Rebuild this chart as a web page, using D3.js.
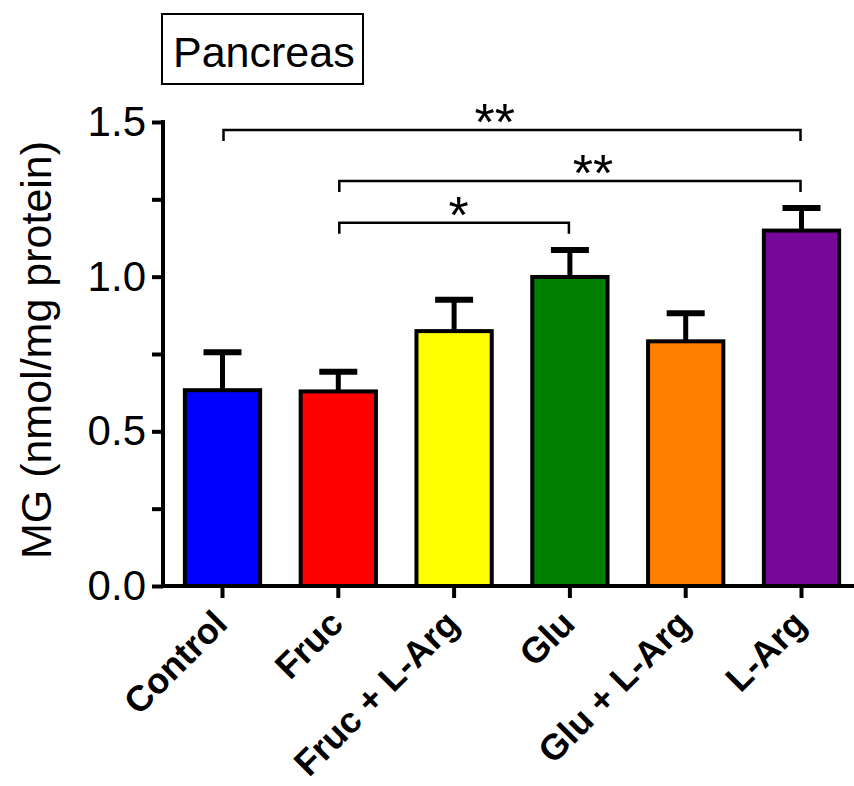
<!DOCTYPE html>
<html>
<head>
<meta charset="utf-8">
<script src="https://cdn.jsdelivr.net/npm/d3@7"></script>
<style>
  html, body { margin: 0; padding: 0; background: #fff; }
  svg { display: block; font-family: "Liberation Sans", Arial, sans-serif; }
</style>
</head>
<body>
<div id="chart"></div>
<script>
// group names, means and SEM
const groups = ['Control', 'Fruc', 'Fruc + L-Arg', 'Glu', 'Glu + L-Arg', 'L-Arg'];
const means  = [0.633, 0.629, 0.824, 0.999, 0.791, 1.149];
const sems   = [0.123, 0.064, 0.101, 0.087, 0.091, 0.073];
const colors = ['#0000ff', '#ff0000', '#ffff00', '#008000', '#ff8000', '#77079a'];
const yTicks = [0, 0.5, 1.0, 1.5];
const yMinorTicks = [0.25, 0.75, 1.25];
// significance brackets: from group, to group, level (y units), label
const brackets = [
  {from: 'Control', to: 'L-Arg', level: 1.474, label: '**'},
  {from: 'Fruc', to: 'L-Arg', level: 1.309, label: '**'},
  {from: 'Fruc', to: 'Glu', level: 1.174, label: '*'}
];
const starPos = [0.47, 0.55, 0.52]; // where the stars sit along each bracket

(function(){
  const width = 854, height = 786;
  const svg = d3.select('#chart').append('svg')
    .attr('width', width)
    .attr('height', height);

  const x = d3.scaleBand()
    .domain(groups)
    .range([164.6, 859.4])
    .paddingInner(0.35)
    .paddingOuter(0.175);
  const y = d3.scaleLinear().domain([0, 1.5]).range([586, 122]);

  // bars
  const bars = svg.append('g').attr('class', 'bars');
  const data = groups.map((g, i) => ({g, m: means[i], s: sems[i], c: colors[i]}));

  // error bars (upper only)
  bars.selectAll('line.stem')
    .data(data)
    .join('line')
    .attr('class', 'stem')
    .attr('x1', d => x(d.g) + x.bandwidth() / 2)
    .attr('x2', d => x(d.g) + x.bandwidth() / 2)
    .attr('y1', d => y(d.m))
    .attr('y2', d => y(d.m + d.s))
    .attr('stroke', '#000')
    .attr('stroke-width', 5);
  bars.selectAll('line.cap')
    .data(data)
    .join('line')
    .attr('class', 'cap')
    .attr('x1', d => x(d.g) + x.bandwidth() / 2 - 19)
    .attr('x2', d => x(d.g) + x.bandwidth() / 2 + 19)
    .attr('y1', d => y(d.m + d.s))
    .attr('y2', d => y(d.m + d.s))
    .attr('stroke', '#000')
    .attr('stroke-width', 6);

  bars.selectAll('rect')
    .data(data)
    .join('rect')
    .attr('x', d => x(d.g))
    .attr('y', d => y(d.m))
    .attr('width', x.bandwidth())
    .attr('height', d => y(0) - y(d.m))
    .attr('fill', d => d.c)
    .attr('stroke', '#000')
    .attr('stroke-width', 4);

  // y axis
  const yAxis = svg.append('g')
    .attr('transform', 'translate(163,0)')
    .call(d3.axisLeft(y).tickValues(yTicks).tickFormat(d3.format('.1f')).tickSize(11).tickPadding(6));
  yAxis.select('.domain').remove();
  yAxis.selectAll('.tick line').attr('stroke', '#000').attr('stroke-width', 4);
  yAxis.selectAll('.tick text')
    .attr('fill', '#000')
    .style('font-size', '42px')
    .style('font-family', '"Liberation Sans", Arial, sans-serif');
  svg.append('g')
    .attr('transform', 'translate(163,0)')
    .call(d3.axisLeft(y).tickValues(yMinorTicks).tickFormat('').tickSize(11))
    .call(g => g.select('.domain').remove())
    .selectAll('.tick line').attr('stroke', '#000').attr('stroke-width', 4);
  svg.append('line')
    .attr('x1', 163).attr('x2', 163)
    .attr('y1', y(1.5) - 2).attr('y2', y(0) + 2)
    .attr('stroke', '#000').attr('stroke-width', 4);

  // x axis
  const xAxis = svg.append('g')
    .attr('transform', `translate(0,${y(0)})`)
    .call(d3.axisBottom(x).tickSize(12).tickFormat(''));
  xAxis.select('.domain').remove();
  xAxis.selectAll('.tick line').attr('stroke', '#000').attr('stroke-width', 4);
  svg.append('line')
    .attr('x1', 161).attr('x2', width)
    .attr('y1', y(0)).attr('y2', y(0))
    .attr('stroke', '#000').attr('stroke-width', 4);

  svg.append('g').selectAll('text')
    .data(groups)
    .join('text')
    .attr('transform', d => `translate(${x(d) + x.bandwidth() / 2 - 2},617) rotate(-45)`)
    .attr('text-anchor', 'end')
    .attr('dy', '0.35em')
    .style('font-size', '36px')
    .style('font-weight', 'bold')
    .text(d => d);

  // y label
  svg.append('text')
    .attr('transform', 'translate(51,350) rotate(-90)')
    .attr('text-anchor', 'middle')
    .style('font-size', '43px')
    .text('MG (nmol/mg protein)');

  // brackets
  const br = svg.append('g').attr('class', 'brackets');
  brackets.forEach((b, i) => {
    const x1 = x(b.from) + x.bandwidth() / 2 + 1;
    const x2 = x(b.to) + x.bandwidth() / 2 - 1;
    const yy = y(b.level);
    br.append('path')
      .attr('d', `M${x1},${yy + 11}V${yy}H${x2}V${yy + 11}`)
      .attr('fill', 'none')
      .attr('stroke', '#000')
      .attr('stroke-width', 2.5);
    br.append('text')
      .attr('x', x1 + (x2 - x1) * starPos[i])
      .attr('y', yy + 10)
      .attr('text-anchor', 'middle')
      .style('font-size', '52px')
      .text(b.label);
  });

  // title box
  svg.append('rect')
    .attr('x', 162).attr('y', 14)
    .attr('width', 201).attr('height', 70)
    .attr('fill', '#fff')
    .attr('stroke', '#000')
    .attr('stroke-width', 2);
  svg.append('text')
    .attr('x', 173).attr('y', 67)
    .style('font-size', '43px')
    .text('Pancreas');
})();
</script>
</body>
</html>
